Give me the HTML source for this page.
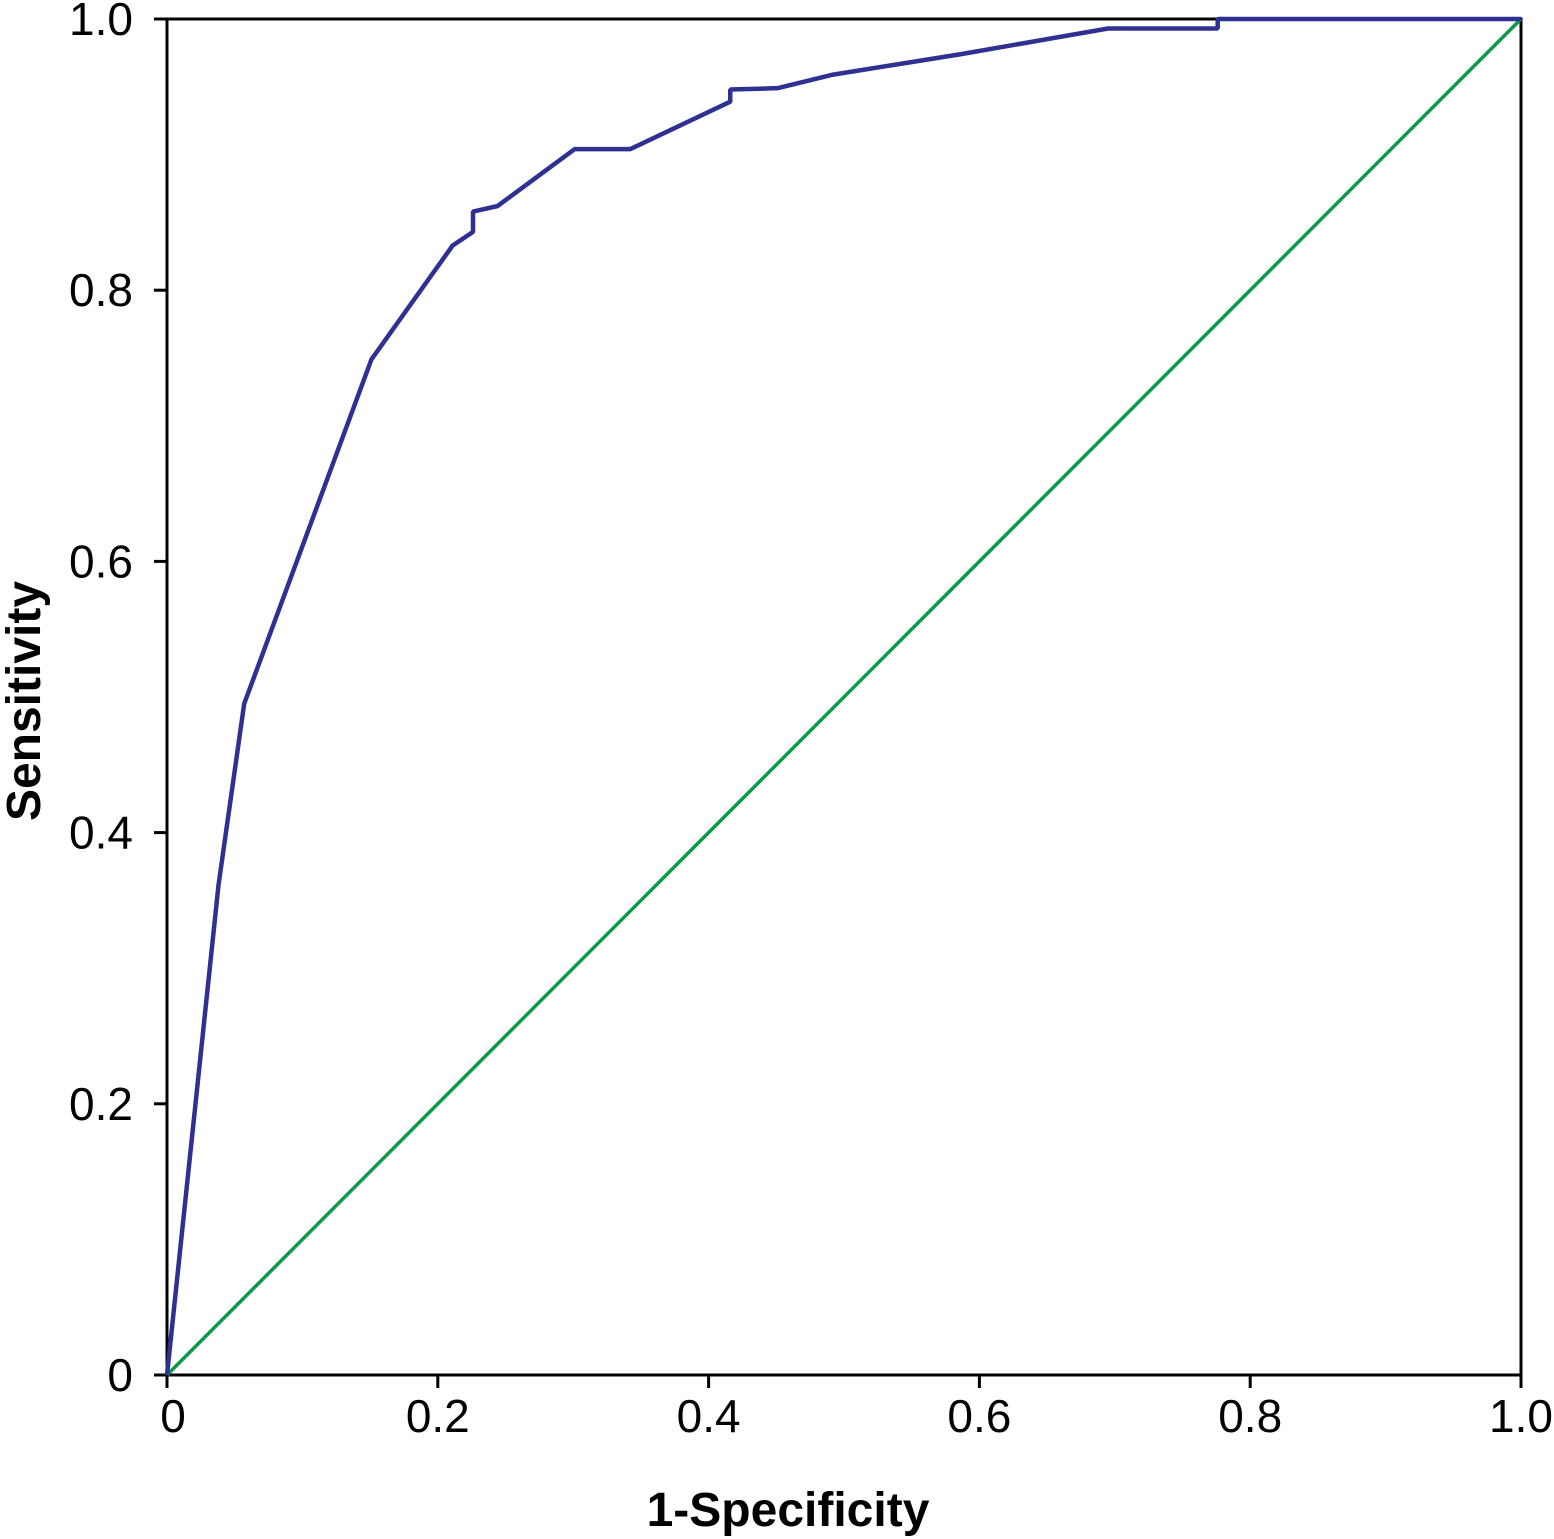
<!DOCTYPE html>
<html><head><meta charset="utf-8"><style>
html,body{margin:0;padding:0;background:#fff;}
svg{display:block;font-family:"Liberation Sans","DejaVu Sans",sans-serif;}
</style></head><body>
<svg id="chart" width="1554" height="1539" viewBox="0 0 1554 1539"></svg>
<script>
const fprValues=[0,0.038,0.057,0.151,0.211,0.226,0.226,0.244,0.301,0.342,0.416,0.416,0.451,0.492,0.586,0.695,0.776,0.776,1];
const tprValues=[0,0.361,0.495,0.749,0.833,0.843,0.858,0.862,0.904,0.904,0.939,0.948,0.949,0.959,0.974,0.993,0.993,1,1];
const tickValues=[0,0.2,0.4,0.6,0.8,1.0];
const tickLabels=["0","0.2","0.4","0.6","0.8","1.0"];
const X0=167,X1=1521,Y0=1375,Y1=19;
const sx=v=>X0+(X1-X0)*v, sy=v=>Y0-(Y0-Y1)*v;
const svg=document.getElementById('chart');
const NS='http://www.w3.org/2000/svg';
function mk(t,a){const e=document.createElementNS(NS,t);for(const k in a)e.setAttribute(k,a[k]);svg.appendChild(e);return e;}
let frame=mk('rect',{x:X0,y:Y1,width:X1-X0,height:Y0-Y1,fill:'none',stroke:'#000','stroke-width':3});


tickValues.forEach((v,i)=>{
  let t=mk('line',{x1:sx(v),x2:sx(v),y1:Y0,y2:Y0+13,stroke:'#000','stroke-width':3});
  
  
  let l=mk('text',{x:sx(v)+(i==0?6:0),y:1432,'text-anchor':'middle','font-size':46});
  l.textContent=tickLabels[i];
  
  
  let t2=mk('line',{x1:X0-13,x2:X0,y1:sy(v),y2:sy(v),stroke:'#000','stroke-width':3});
  
  
  let l2=mk('text',{x:133,y:sy(v)+16,'text-anchor':'end','font-size':46});
  l2.textContent=tickLabels[i];
  
  
});
let ref=mk('line',{x1:sx(0),y1:sy(0),x2:sx(1),y2:sy(1),stroke:'#0a9a4a','stroke-width':3.5});


let pts=fprValues.map((v,i)=>sx(v)+','+sy(tprValues[i])).join(' ');
let roc=mk('polyline',{points:pts,fill:'none',stroke:'#2e3192','stroke-width':4.5,'stroke-linejoin':'bevel'});


let xt=mk('text',{x:788,y:1526,'text-anchor':'middle','font-size':48,'font-weight':'bold'});
xt.textContent='1-Specificity';


let yt=mk('text',{x:0,y:0,'text-anchor':'middle','font-size':48,'font-weight':'bold',transform:'translate(40,701) rotate(-90)'});
yt.textContent='Sensitivity';


</script>
</body></html>
